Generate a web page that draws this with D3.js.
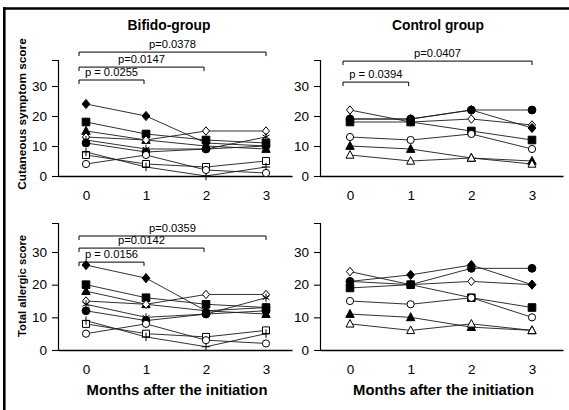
<!DOCTYPE html>
<html>
<head>
<meta charset="utf-8">
<script src="https://cdn.jsdelivr.net/npm/d3@7"></script>
<style>
  html, body { margin: 0; padding: 0; background: #fff; }
  svg { display: block; }
  text { font-family: "Liberation Sans", Arial, sans-serif; fill: #000; }
</style>
</head>
<body>
<svg id="chart" width="569" height="410"></svg>
<script>
// ---------------- DATA ----------------
const months = [0, 1, 2, 3];
const yTicks = [0, 10, 20, 30];

const bifidoMarkers = ["diamondF", "squareF", "triF", "diamondO", "star", "circleF", "squareO", "plus", "circleO"];
const bifidoCutaneous = [
  [24, 20, 11, 10],
  [18, 14, 12, 11],
  [15, 12, 10, 9],
  [13, 12, 15, 15],
  [12, 9, 9, 13],
  [11, 8, 9, 10],
  [7, 4, 3, 5],
  [8, 3, 0, 3],
  [4, 7, 2, 1]
];
const bifidoAllergic = [
  [26, 22, 12, 13],
  [20, 16, 14, 13],
  [18, 14, 12, 11],
  [15, 14, 17, 17],
  [14, 10, 11, 16],
  [12, 9, 11, 12],
  [8, 5, 4, 6],
  [9, 4, 1, 5],
  [5, 8, 3, 2]
];

const controlMarkers = ["diamondO", "circleF", "diamondF", "squareF", "circleO", "triF", "triO"];
const controlCutaneous = [
  [22, 18, 19, 17],
  [19, 19, 22, 22],
  [19, 19, 22, 16],
  [18, 18, 15, 12],
  [13, 12, 14, 9],
  [10, 9, 6, 5],
  [7, 5, 6, 4]
];
const controlAllergic = [
  [24, 20, 21, 20],
  [21, 20, 25, 25],
  [21, 23, 26, 20],
  [19, 20, 16, 13],
  [15, 14, 16, 10],
  [11, 10, 7, 6],
  [8, 6, 8, 6]
];

const bifidoCutBrackets = [
  { from: 0, to: 3, level: 41.3, label: "p=0.0378" },
  { from: 0, to: 2, level: 36.3, label: "p=0.0147" },
  { from: 0, to: 1, level: 32.0, label: "p = 0.0255" }
];
const controlCutBrackets = [
  { from: 0, to: 3, level: 38.3, label: "p=0.0407" },
  { from: 0, to: 1, level: 31.3, label: "p = 0.0394" }
];
const bifidoAllBrackets = [
  { from: 0, to: 3, level: 34.9, label: "p=0.0359" },
  { from: 0, to: 2, level: 31.2, label: "p=0.0142" },
  { from: 0, to: 1, level: 26.9, label: "p = 0.0156" }
];
const controlAllBrackets = [];

const titles = ["Bifido-group", "Control group"];
const yLabels = ["Cutaneous symptom score", "Total allergic score"];
const xLabel = "Months after the initiation";

// ---------------- SHAPES ----------------
function shape(kind) {
  return {
    draw(ctx, size) {
      const r = Math.sqrt(size);
      if (kind === "diamond") {
        ctx.moveTo(0, -r); ctx.lineTo(r * 0.85, 0); ctx.lineTo(0, r); ctx.lineTo(-r * 0.85, 0); ctx.closePath();
      } else if (kind === "square") {
        ctx.rect(-r, -r, 2 * r, 2 * r);
      } else if (kind === "triangle") {
        ctx.moveTo(0, -r * 1.1); ctx.lineTo(r, r * 0.8); ctx.lineTo(-r, r * 0.8); ctx.closePath();
      } else if (kind === "circle") {
        ctx.moveTo(r, 0); ctx.arc(0, 0, r, 0, 2 * Math.PI);
      } else if (kind === "plus") {
        ctx.moveTo(-r, 0); ctx.lineTo(r, 0); ctx.moveTo(0, -r); ctx.lineTo(0, r);
      } else if (kind === "star") {
        for (let k = 0; k < 3; k++) {
          const a = Math.PI / 6 + k * Math.PI / 3;
          ctx.moveTo(-r * Math.cos(a), -r * Math.sin(a));
          ctx.lineTo(r * Math.cos(a), r * Math.sin(a));
        }
      }
    }
  };
}
const markerStyles = {
  diamondF: { kind: "diamond", r: 4.6, fill: "#000" },
  diamondO: { kind: "diamond", r: 4.2, fill: "#fff" },
  squareF:  { kind: "square", r: 3.8, fill: "#000" },
  squareO:  { kind: "square", r: 3.5, fill: "#fff" },
  triF:     { kind: "triangle", r: 4.2, fill: "#000" },
  triO:     { kind: "triangle", r: 4.0, fill: "#fff" },
  circleF:  { kind: "circle", r: 3.9, fill: "#000" },
  circleO:  { kind: "circle", r: 3.6, fill: "#fff" },
  plus:     { kind: "plus", r: 4.2, fill: "none" },
  star:     { kind: "star", r: 4.0, fill: "none" }
};

// ---------------- LAYOUT ----------------
const svg = d3.select("#chart");
const FONT = "'Liberation Sans', Arial, sans-serif";

// frame (top & left border)
svg.append("line").attr("x1", 3).attr("x2", 569).attr("y1", 8.5).attr("y2", 8.5)
  .attr("stroke", "#000").attr("stroke-width", 2.6);
svg.append("line").attr("x1", 4.3).attr("x2", 4.3).attr("y1", 7.2).attr("y2", 410)
  .attr("stroke", "#000").attr("stroke-width", 2.6);

const cols = [
  { x0: 58, x1: 292, zero: 86, three: 266, cx: 169 },
  { x0: 320, x1: 563, zero: 350, three: 532, cx: 438 }
];
const rows = [
  { y0: 176, y30: 86, top: 60 },
  { y0: 350, y30: 252, top: 223 }
];

const panels = [
  { c: 0, r: 0, data: bifidoCutaneous, markers: bifidoMarkers, brackets: bifidoCutBrackets },
  { c: 1, r: 0, data: controlCutaneous, markers: controlMarkers, brackets: controlCutBrackets },
  { c: 0, r: 1, data: bifidoAllergic, markers: bifidoMarkers, brackets: bifidoAllBrackets },
  { c: 1, r: 1, data: controlAllergic, markers: controlMarkers, brackets: controlAllBrackets }
];

panels.forEach(p => {
  const col = cols[p.c], row = rows[p.r];
  const xBase = d3.scaleLinear().domain([0, 3]).range([col.zero, col.three]);
  const x = d3.scaleLinear().domain([xBase.invert(col.x0), xBase.invert(col.x1)]).range([col.x0, col.x1]);
  const yBase = d3.scaleLinear().domain([0, 30]).range([row.y0, row.y30]);
  const y = d3.scaleLinear().domain([0, yBase.invert(row.top)]).range([row.y0, row.top]);

  const g = svg.append("g");

  // y axis
  const ya = g.append("g").attr("transform", `translate(${col.x0},0)`)
    .call(d3.axisLeft(y).tickValues(yTicks).tickSize(6).tickPadding(5).tickFormat(d3.format("d")));
  ya.select(".domain").attr("stroke", "#000").attr("stroke-width", 1.2);
  ya.selectAll(".tick line").attr("stroke", "#000").attr("stroke-width", 1.1);
  ya.selectAll(".tick text").attr("font-family", FONT).attr("font-size", 13.5).attr("fill", "#000");

  // x axis
  const xa = g.append("g").attr("transform", `translate(0,${row.y0})`)
    .call(d3.axisBottom(x).tickValues(months).tickSize(0).tickPadding(14).tickFormat(d3.format("d")));
  xa.select(".domain").attr("stroke", "#000").attr("stroke-width", 1.4);
  xa.selectAll(".tick text").attr("font-family", FONT).attr("font-size", 13.5).attr("fill", "#000");

  // lines
  const line = d3.line().x((d, i) => x(months[i])).y(d => y(d));
  g.append("g").selectAll("path").data(p.data).join("path")
    .attr("d", d => line(d))
    .attr("fill", "none").attr("stroke", "#1a1a1a").attr("stroke-width", 0.9);

  // markers
  p.data.forEach((s, si) => {
    const st = markerStyles[p.markers[si]];
    const sym = d3.symbol().type(shape(st.kind)).size(st.r * st.r);
    g.append("g").selectAll("path").data(s).join("path")
      .attr("transform", (d, i) => `translate(${x(months[i])},${y(d)})`)
      .attr("d", sym)
      .attr("fill", st.fill).attr("stroke", "#000").attr("stroke-width", 1);
  });

  // brackets
  p.brackets.forEach(b => {
    const xs = x(b.from) - 7, xe = x(b.to) - (b.to === 3 ? 0 : 2), yy = y(b.level);
    g.append("path")
      .attr("d", `M${xs},${yy + 4}V${yy}H${xe}V${yy + 4}`)
      .attr("fill", "none").attr("stroke", "#000").attr("stroke-width", 1);
    g.append("text").attr("x", (xs + xe) / 2).attr("y", yy - 4)
      .attr("text-anchor", "middle").attr("font-size", 11.2).text(b.label);
  });

  // titles / labels
  if (p.r === 0) {
    g.append("text").attr("x", col.cx).attr("y", 30).attr("text-anchor", "middle")
      .attr("font-size", 13.8).attr("font-weight", "bold").text(titles[p.c]);
  } else {
    g.append("text").attr("x", (col.x0 + col.x1) / 2 + 2).attr("y", 395).attr("text-anchor", "middle")
      .attr("font-size", 14.8).attr("font-weight", "bold").text(xLabel);
  }
  if (p.c === 0) {
    const cy = p.r === 0 ? 114 : 286;
    g.append("text").attr("transform", `translate(25.5,${cy}) rotate(-90)`)
      .attr("text-anchor", "middle").attr("font-size", p.r === 0 ? 11.8 : 11.3)
      .attr("font-weight", "bold").text(yLabels[p.r]);
  }
});
</script>
</body>
</html>
